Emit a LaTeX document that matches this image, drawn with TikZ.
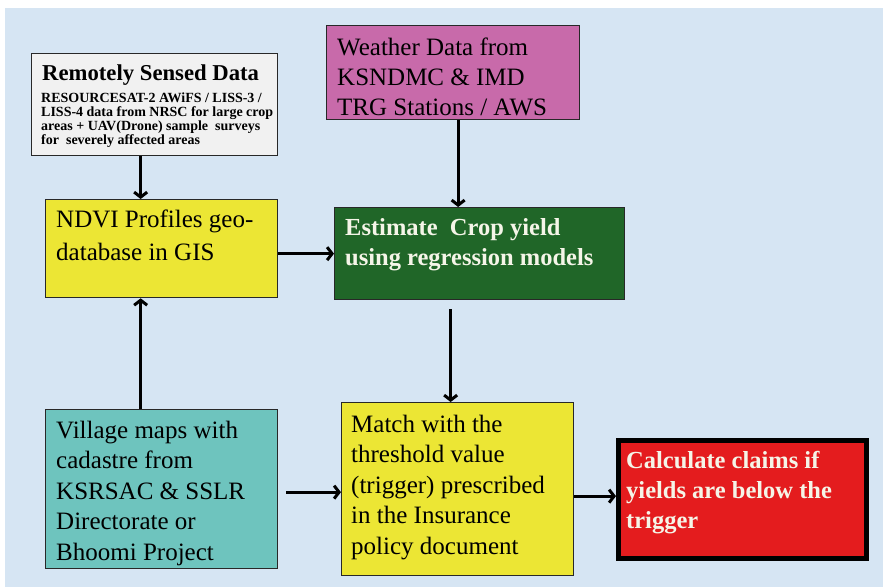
\documentclass[tikz,border=0pt]{standalone}
\usepackage{fontspec}
\setmainfont{Liberation Serif}
\usetikzlibrary{arrows.meta}
\definecolor{bgblue}{RGB}{214,229,243}
\definecolor{remfill}{RGB}{241,241,241}
\definecolor{weafill}{RGB}{200,106,170}
\definecolor{ylw}{RGB}{236,230,52}
\definecolor{grn}{RGB}{32,102,40}
\definecolor{teal}{RGB}{110,196,190}
\definecolor{redf}{RGB}{228,28,30}
\definecolor{offwhite}{RGB}{245,245,232}
\definecolor{bordergray}{RGB}{40,40,40}
\tikzset{
  box/.style={draw=bordergray, line width=1.3pt, rectangle, inner sep=0pt, anchor=north west},
  txt/.style={anchor=base west, align=left, inner sep=0pt, font=\fontsize{25}{30}\selectfont},
  btxt/.style={anchor=base west, align=left, inner sep=0pt, font=\fontsize{24.5}{30}\selectfont\bfseries, text=offwhite},
  arr/.style={line width=3pt, -{Straight Barb[length=5pt,width=13pt]}, black}
}
\begin{document}
\begin{tikzpicture}[x=1pt,y=-1pt]
\useasboundingbox (0,0) rectangle (883,587);
\fill[white] (0,0) rectangle (883,587);
\fill[bgblue] (5,8) rectangle (883,587);

% boxes
\node[box, fill=remfill, minimum width=246pt, minimum height=102pt] (remote) at (31,53) {};
\node[box, fill=weafill, minimum width=253pt, minimum height=94pt] (weather) at (326,25) {};
\node[box, fill=ylw, minimum width=232pt, minimum height=98pt] (ndvi) at (45,199) {};
\node[box, fill=grn, minimum width=290pt, minimum height=92pt] (est) at (334,207) {};
\node[box, fill=teal, minimum width=232pt, minimum height=159pt] (village) at (45,409) {};
\node[box, fill=ylw, minimum width=232pt, minimum height=173pt] (match) at (341,402) {};
\node[box, draw=black, line width=5pt, fill=redf, minimum width=248pt, minimum height=118pt] (calc) at (616,438) {};

% texts (multi-line nodes: anchored at the baseline of their last line)
\node[anchor=base west, inner sep=0pt, font=\fontsize{22.7}{26}\selectfont\bfseries] (remtitle) at (42,80) {Remotely Sensed Data};
\node[anchor=base west, align=left, inner sep=0pt, font=\fontsize{14}{14}\selectfont\bfseries] (remtext) at (41,144)
  {RESOURCESAT-2 AWiFS / LISS-3 /\\LISS-4 data from NRSC for large crop\\areas + UAV(Drone) sample\ \ surveys\\for\ \ severely affected areas};
\node[txt] (weatext) at (337,115) {Weather Data from\\KSNDMC \& IMD\\TRG Stations / AWS};
\node[txt, font=\fontsize{25}{33}\selectfont] (ndvitext) at (56,260) {NDVI Profiles geo-\\database in GIS};
\node[btxt] (esttext) at (345,265) {Estimate\ \ Crop yield\\using regression models};
\node[txt, font=\fontsize{25}{30.5}\selectfont] (viltext) at (56,560) {Village maps with\\cadastre from\\KSRSAC \& SSLR\\Directorate or\\Bhoomi Project};
\node[txt, font=\fontsize{25}{30.5}\selectfont] (matchtext) at (351,554) {Match with the\\threshold value\\(trigger) prescribed\\in the Insurance\\policy document};
\node[btxt] (calctext) at (626,528) {Calculate claims if\\yields are below the\\trigger};

% connectors
\draw[arr] ([xshift=-14pt]remote.south) -- ([xshift=-14pt]remote.south |- ndvi.north);
\draw[arr] ([xshift=5pt]weather.south) -- ([xshift=5pt]weather.south |- est.north);
\draw[arr] ([yshift=-5pt]ndvi.east) -- ([yshift=-5pt]ndvi.east -| est.west);
\draw[arr, shorten <=9pt] ([xshift=-29pt]est.south) -- ([xshift=-29pt]est.south |- match.north);
\draw[arr] ([xshift=-21pt]village.north) -- ([xshift=-21pt]village.north |- ndvi.south);
\draw[arr, shorten <=8pt] ([yshift=-3pt]village.east) -- ([yshift=-3pt]village.east -| match.west);
\draw[arr] ([yshift=-7pt]match.east) -- ([yshift=-7pt]match.east -| calc.west);
\end{tikzpicture}
\end{document}
